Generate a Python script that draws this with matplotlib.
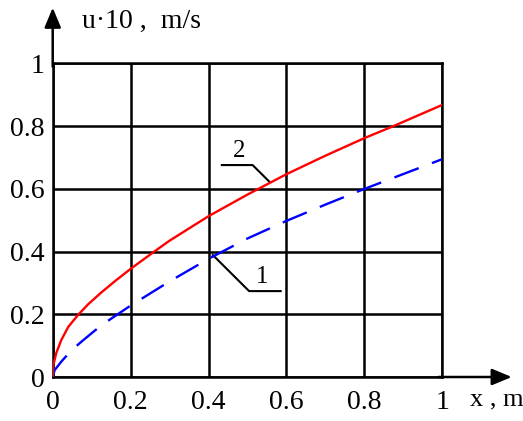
import numpy as np
import matplotlib
matplotlib.use("Agg")
import matplotlib.pyplot as plt

plt.rcParams['font.family'] = ['Liberation Serif', 'DejaVu Serif']

# values
x_red = [0, 0.002, 0.009, 0.022, 0.04, 0.065, 0.091, 0.125, 0.16, 0.2, 0.255,
         0.3, 0.4, 0.5, 0.6, 0.7, 0.8, 0.874, 1.0]
u_red = [0, 0.04, 0.076, 0.118, 0.16, 0.198, 0.232, 0.27, 0.306, 0.345, 0.395,
         0.435, 0.513, 0.582, 0.647, 0.706, 0.762, 0.8, 0.868]

x_blue = [0, 0.005, 0.022, 0.048, 0.074, 0.108, 0.138, 0.2, 0.3, 0.4, 0.5,
          0.6, 0.7, 0.8, 1.0]
u_blue = [0, 0.022, 0.049, 0.085, 0.113, 0.148, 0.176, 0.228, 0.305, 0.377, 0.442,
          0.498, 0.55, 0.6, 0.695]

ticks = [0, 0.2, 0.4, 0.6, 0.8, 1.0]
tick_labels = ["0", "0.2", "0.4", "0.6", "0.8", "1"]

fig = plt.figure(figsize=(5.23, 4.21), dpi=100)
ax = fig.add_axes([0.1008, 0.1045, 0.745, 0.7447])

ax.set_xlim(0, 1)
ax.set_ylim(0, 1)
ax.set_xticks(ticks)
ax.set_yticks(ticks)
ax.set_xticklabels(tick_labels)
ax.set_yticklabels(tick_labels)
ax.tick_params(length=0, labelsize=20, colors='black')
ax.tick_params(axis='x', pad=9)
ax.tick_params(axis='y', pad=6)
ax.grid(True, color='black', lw=1.8)
for s in ax.spines.values():
    s.set_linewidth(1.8)
    s.set_color('black')

ax.plot(x_blue, u_blue, color='#0000ff', lw=1.7, dashes=(11, 6), zorder=3)
ax.plot(x_red, u_red, color='#ff0000', lw=1.7, zorder=3)

# axis arrows
astyle = '-|>,head_length=0.6,head_width=0.25'
ax.annotate('', xy=(1.178, 0), xytext=(0.99, 0), xycoords='axes fraction',
            arrowprops=dict(arrowstyle=astyle, color='black', lw=1.8,
                            mutation_scale=20, shrinkA=0, shrinkB=0))
ax.annotate('', xy=(0, 1.178), xytext=(0, 0.99), xycoords='axes fraction',
            arrowprops=dict(arrowstyle=astyle, color='black', lw=1.8,
                            mutation_scale=20, shrinkA=0, shrinkB=0))

ax.text(0.075, 1.135, "u·10 ,  m/s", transform=ax.transAxes, fontsize=20,
        ha='left', va='center')
ax.text(1.071, -0.073, "x , m", transform=ax.transAxes, fontsize=19,
        ha='left', va='center', clip_on=False)

# curve labels with leader lines
ax.plot([0.434, 0.513, 0.556], [0.676, 0.676, 0.623], color='black', lw=1.5)
ax.text(0.478, 0.722, "2", fontsize=18, ha='center', va='center')
ax.plot([0.411, 0.504, 0.585], [0.389, 0.274, 0.274], color='black', lw=1.5)
ax.text(0.537, 0.318, "1", fontsize=18, ha='center', va='center')

fig.savefig("out.png", dpi=100)
